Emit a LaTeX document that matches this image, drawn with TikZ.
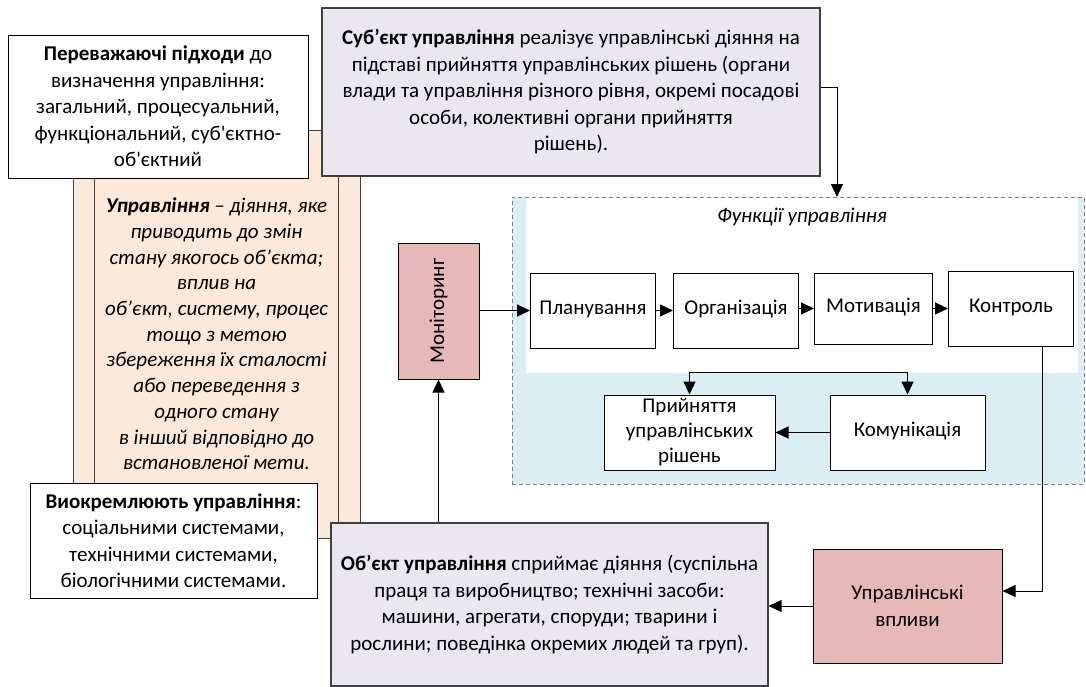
\documentclass[tikz,border=0pt]{standalone}
\usepackage{fontspec}
\setmainfont{Carlito}
\usepackage{xcolor}
\usetikzlibrary{positioning}
\usetikzlibrary{arrows.meta}

\newcommand{\fs}{\fontsize{21pt}{26.5pt}\selectfont}
\definecolor{lilac}{RGB}{234,231,240}
\definecolor{peach}{RGB}{252,233,217}
\definecolor{rosy}{RGB}{230,185,184}
\definecolor{skyblue}{RGB}{218,238,243}
\definecolor{edge}{RGB}{64,64,64}

\begin{document}
\begin{tikzpicture}[x=1pt, y=-1pt,
whitebox/.style={rectangle, draw=black, fill=white, line width=1pt, inner sep=0pt, align=center, font=\fs},
lilacbox/.style={rectangle, draw=edge, fill=lilac, line width=1.2pt, inner sep=0pt, align=center, font=\fs},
rosybox/.style={rectangle, draw=black, fill=rosy, line width=1pt, inner sep=0pt, align=center, font=\fs},
funcbox/.style={rectangle, draw=black, fill=white, line width=1pt, minimum width=125pt, minimum height=75pt, inner sep=0pt, align=center, font=\fs},
oneline/.style={text height=2ex, text depth=.5ex},
arr/.style={-{Triangle[length=13pt,width=12pt]}, line width=1pt},
]
\useasboundingbox (0,0) rectangle (1086,686);
% left column
\node[rectangle, draw=edge, fill=peach, line width=1pt, minimum width=287pt, minimum height=408pt, inner sep=0pt, align=center, font=\fontsize{21pt}{25.7pt}\selectfont\itshape] (upr) at (216.5,334)
{\textbf{Управління} – діяння, яке\\приводить до змін\\стану якогось об’єкта;\\вплив на\\об’єкт, систему, процес\\тощо з метою\\збереження їх сталості\\або переведення з\\одного стану\\в інший відповідно до\\встановленої мети.};
\draw[edge, line width=1pt] ([xshift=22pt]upr.north west) -- ([xshift=22pt]upr.south west);
\draw[edge, line width=1pt] ([xshift=-22pt]upr.north east) -- ([xshift=-22pt]upr.south east);
\node[whitebox, minimum width=300pt, minimum height=143pt] (pidhody) at (158,106.5)
{\textbf{Переважаючі підходи} до\\визначення управління:\\загальний, процесуальний,\\функціональний, суб\textquotesingle єктно-\\об\textquotesingle єктний};
\node[whitebox, minimum width=287pt, minimum height=115pt] (vyokr) at (173.5,540.5)
{\textbf{Виокремлюють управління}:\\соціальними системами,\\технічними системами,\\біологічними системами.};
% subject
\node[lilacbox, minimum width=498pt, minimum height=168pt] (subj) at (571,92)
{\textbf{Суб’єкт управління} реалізує управлінські діяння на\\підставі прийняття управлінських рішень (органи\\влади та управління різного рівня, окремі посадові\\особи, колективні органи прийняття\\рішень).};
% functions
\node[rectangle, draw=gray, dash pattern=on 4pt off 3pt, fill=skyblue, line width=1pt, minimum width=572pt, minimum height=287pt] (func) at (798,340.5) {};
\fill[white] (526,198) rectangle (1078,373);
\node[font=\fs\itshape] (ftitle) at (802,217) {Функції управління};
\node[funcbox, oneline] (plan) at (593,310.5) {Планування};
\node[funcbox, oneline, right=17pt of plan] (org) {Організація};
\node[funcbox, oneline, right=15pt of org, minimum width=118pt, minimum height=71pt, yshift=2pt] (motiv) {Мотивація};
\node[funcbox, oneline, right=15pt of motiv] (kontrol) {Контроль};
\node[funcbox, minimum width=171pt, font=\fontsize{21pt}{25pt}\selectfont] (pryin) at (689.5,432.5) {Прийняття\\управлінських\\рішень};
\node[funcbox, oneline, minimum width=155pt] (komun) at (907.5,432.5) {Комунікація};
% monitoring and influence
\node[rosybox, minimum width=81pt, minimum height=136pt] (monit) at (438.5,311) {\rotatebox{90}{Моніторинг}};
\node[rosybox, minimum width=189pt, minimum height=114pt] (vplyv) at (907.5,606) {Управлінські\\впливи};
% object
\node[lilacbox, minimum width=437pt, minimum height=163pt] (obj) at (549.5,604.5)
{\textbf{Об’єкт управління} сприймає діяння (суспільна\\праця та виробництво; технічні засоби:\\машини, агрегати, споруди; тварини і\\рослини; поведінка окремих людей та груп).};
%Lines
\coordinate (fin) at (837,197);
\coordinate (split) at (802,372);
\draw[arr] ([yshift=5pt]subj.east) -| (fin);
\draw[arr] (monit.east |- plan.west) -- (plan.west);
\draw[arr] (plan.east) -- (org.west);
\draw[arr] (org.east |- motiv.west) -- (motiv.west);
\draw[arr] (motiv.east) -- (kontrol.west);
\draw[arr] (split) -| (pryin.north);
\draw[arr] (split) -| (komun.north);
\draw[arr] (komun.west) -- (pryin.east);
\draw[arr] ([xshift=31pt]kontrol.south) |- ([yshift=15pt]vplyv.east);
\draw[arr] (vplyv.west) -- (obj.east |- vplyv.west);
\draw[arr] (monit.south |- obj.north) -- (monit.south);
\end{tikzpicture}
\end{document}
